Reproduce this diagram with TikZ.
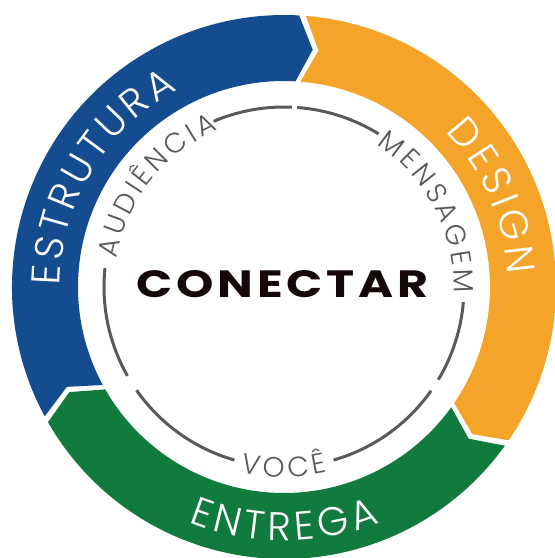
\documentclass[tikz,border=0pt]{standalone}
\usepackage{fontspec}
\setmainfont{Poppins}
\newfontfamily\ringfont{Poppins Light}
\newfontfamily\titlefont{Poppins}[LetterSpace=8]
\usetikzlibrary{decorations.text}
\definecolor{ringblue}{HTML}{154B8F}
\definecolor{ringorange}{HTML}{F5A42A}
\definecolor{ringgreen}{HTML}{117A3D}
\definecolor{ringgray}{HTML}{58595B}
\definecolor{inkblack}{HTML}{140808}
% ring geometry (1 unit = 1pt)
\newcommand{\Ro}{272}
\newcommand{\Ri}{206}
\newcommand{\Rm}{239}
\newcommand{\gapang}{0.7}
\newcommand{\tipang}{3.7}
% one chevron segment of the ring: colour, start angle, end angle (clockwise)
\newcommand{\ringseg}[3]{%
  \fill[#1] (#2-\gapang:\Ro)
    arc[start angle=#2-\gapang, end angle=#3+\gapang, radius=\Ro]
    -- (#3+\gapang-\tipang:\Rm) -- (#3+\gapang:\Ri)
    arc[start angle=#3+\gapang, end angle=#2-\gapang, radius=\Ri]
    -- (#2-\gapang-\tipang:\Rm) -- cycle;}
\tikzset{
  ringlabel/.style={decorate, decoration={text along path, text align=center,
      text color=white, text={|\ringfont\fontsize{40}{40}\selectfont|#1}}},
  innerlabel/.style={decorate, decoration={text along path, text align=center,
      text color=ringgray, text={|\ringfont\fontsize{28}{28}\selectfont|#1}}},
  grayarc/.style={draw=ringgray, line width=3pt},
}

\begin{document}
\begin{tikzpicture}[x=1pt, y=1pt]
  \useasboundingbox (-284,-271) rectangle (271,287);

  % Outer ring
  \ringseg{ringblue}{209.1}{86.1}
  \ringseg{ringorange}{86.1}{-35}
  \ringseg{ringgreen}{-35}{-150.9}

  \path[ringlabel={E{\kern3.6pt}S{\kern3.6pt}T{\kern3.6pt}R{\kern3.6pt}U{\kern3.6pt}T{\kern3.6pt}U{\kern3.6pt}R{\kern3.6pt}A}]
    (207:224) arc[start angle=207, end angle=91, radius=224];
  \path[ringlabel={D{\kern4pt}E{\kern4pt}S{\kern4pt}I{\kern4pt}G{\kern4pt}N}]
    (81:224) arc[start angle=81, end angle=-34, radius=224];
  \path[ringlabel={E{\kern4.5pt}N{\kern4.5pt}T{\kern4.5pt}R{\kern4.5pt}E{\kern4.5pt}G{\kern4.5pt}A}]
    (215:254) arc[start angle=215, end angle=325, radius=254];

  % Inner circle
  \draw[grayarc] (113:180) arc[start angle=113, end angle=87.5, radius=180];
  \draw[grayarc] (85.8:180) arc[start angle=85.8, end angle=58.3, radius=180];
  \draw[grayarc] (-4.8:180) arc[start angle=-4.8, end angle=-31, radius=180];
  \draw[grayarc] (-35.2:180) arc[start angle=-35.2, end angle=-74, radius=180];
  \draw[grayarc] (-106:180) arc[start angle=-106, end angle=-145, radius=180];
  \draw[grayarc] (-150.4:180) arc[start angle=-150.4, end angle=-186, radius=180];

  \path[innerlabel={A{\kern3.5pt}U{\kern3.5pt}D{\kern3.5pt}I{\kern3.5pt}Ê{\kern3.5pt}N{\kern3.5pt}C{\kern3.5pt}I{\kern3.5pt}A}]
    (190:170) arc[start angle=190, end angle=93, radius=170];
  \path[innerlabel={M{\kern3.5pt}E{\kern3.5pt}N{\kern3.5pt}S{\kern3.5pt}A{\kern3.5pt}G{\kern3.5pt}E{\kern3.5pt}M}]
    (75:170) arc[start angle=75, end angle=-20, radius=170];
  \path[innerlabel={V{\kern3.5pt}O{\kern3.5pt}C{\kern3.5pt}Ê}]
    (230:190) arc[start angle=230, end angle=310, radius=190];

  \node[font=\titlefont\bfseries\fontsize{38}{38}\selectfont, text=inkblack,
    xscale=1.25] (conectar) at (-1.5,2.5) {CONECTAR};
\end{tikzpicture}
\end{document}
